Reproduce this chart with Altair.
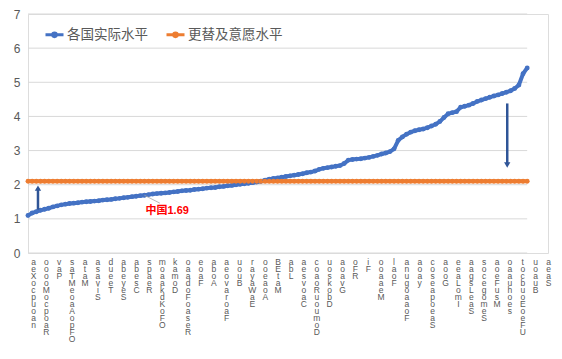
import json
import altair as alt
import pandas as pd

# ---------------- data ----------------
SERIES_ACTUAL = "各国实际水平"
SERIES_REPL = "更替及意愿水平"

actual = [
    1.10, 1.17, 1.21, 1.25, 1.28, 1.31, 1.35, 1.38, 1.41, 1.43,
    1.45, 1.46, 1.47, 1.49, 1.50, 1.51, 1.52, 1.53, 1.55, 1.56,
    1.57, 1.59, 1.60, 1.62, 1.63, 1.65, 1.66, 1.68, 1.69, 1.71,
    1.73, 1.74, 1.75, 1.76, 1.77, 1.79, 1.80, 1.82, 1.83, 1.84,
    1.86, 1.87, 1.88, 1.90, 1.91, 1.92, 1.94, 1.95, 1.97, 1.98,
    2.00, 2.01, 2.03, 2.04, 2.06, 2.08, 2.10, 2.13, 2.16, 2.18,
    2.20, 2.22, 2.24, 2.26, 2.28, 2.30, 2.32, 2.35, 2.37, 2.40,
    2.45, 2.48, 2.50, 2.52, 2.54, 2.56, 2.62, 2.72, 2.74, 2.75,
    2.76, 2.78, 2.80, 2.83, 2.86, 2.90, 2.93, 2.97, 3.05, 3.30,
    3.40, 3.48, 3.54, 3.58, 3.61, 3.63, 3.67, 3.72, 3.77, 3.85,
    3.97, 4.08, 4.11, 4.14, 4.27, 4.30, 4.33, 4.38, 4.44, 4.48,
    4.52, 4.56, 4.60, 4.63, 4.67, 4.71, 4.75, 4.82, 4.92, 5.25,
    5.42,
]
replacement_level = 2.1

x_labels = [
    "aeXocpuoan", "ooooMocpoaR", "vaP", "saT MeoaAopFO", "ataM", "asaviS",
    "dueeT", "abeyeS", "abesC", "spaeR", "moaakdKoFO", "kamoD",
    "oaadoF oaseR", "eoaF", "aboA", "aeovaroaF", "uouB", "rayaWaE",
    "ooeaoA", "BEtaM", "abL", "aesvoaC", "coaoR uou moD", "uoskobD",
    "aoavG", "oFR", "iF", "ooaaeM", "laoF", "anugoaaoF", "aoay",
    "cosea poeaS", "aooG", "eeaLomI", "aagsLeaS", "soce gomeS", "aoeFusM",
    "oaauhoes", "tocbuoEoeFU", "uoauB", "aeaS",
]
label_start = 1.2   # category position of the first label
label_step = 3.095  # categories between labels

y_ticks = [0, 1, 2, 3, 4, 5, 6, 7]

# arrows: position (category index), start value, tip value
arrow_x = [2.4, 115.2]
arrow_from = [1.27, 4.38]
arrow_to = [1.90, 2.58]
arrow_dir = ["up", "down"]

china_label = "中国1.69"
china_index = 28
china_value = 1.69
leader_end = [31.7, 1.46]

# ---------------- styles ----------------
BLUE = "#4472C4"
ORANGE = "#ED7D31"
ARROW = "#2F5597"
GRID = "#D9D9D9"
TEXT = "#595959"
FONT = "Liberation Sans, Noto Sans CJK SC, sans-serif"

n = len(actual)
rows = []
for i, v in enumerate(actual):
    rows.append({"i": i, "v": v, "s": SERIES_ACTUAL})
for i in range(n):
    rows.append({"i": i, "v": replacement_level, "s": SERIES_REPL})
df = pd.DataFrame(rows)

arrows = pd.DataFrame({"x": arrow_x, "y0": arrow_from, "y1": arrow_to, "d": arrow_dir})
china = pd.DataFrame({"x": [china_index], "y": [china_value], "t": [china_label],
                      "x2": [leader_end[0]], "y2": [leader_end[1]]})
grid_df = pd.DataFrame({"y": y_ticks, "x0": [0] * len(y_ticks), "x1": [n - 1] * len(y_ticks)})

tick_values = [round(label_start + k * label_step, 3) for k in range(len(x_labels))]
label_expr = ("split(" + json.dumps(x_labels).replace('"', "'")
              + "[round((datum.value-%s)/%s)], '')" % (label_start, label_step))

x_max = tick_values[-1]
x_scale = alt.Scale(domain=[0, x_max], nice=False, zero=False)
y_scale = alt.Scale(domain=[0, 7], nice=False)
plot_w = round(499 * x_max / (n - 1))

x_axis = alt.Axis(
    values=tick_values, labelExpr=label_expr, title=None,
    grid=False, ticks=False, domain=False,
    labelAngle=0, labelAlign="center", labelBaseline="top", labelFontSize=8.5,
    labelLineHeight=7, labelColor=TEXT, labelPadding=4, labelOverlap=False,
    labelFlush=False, labelBound=False, labelFont=FONT,
)
y_axis = alt.Axis(
    values=y_ticks, title=None, grid=False,
    domain=False, ticks=False, labelFontSize=12, labelColor=TEXT,
    labelPadding=8, labelFont=FONT, labelOverlap=False,
)

legend_symbol = "M-1,0L1,0M-0.2,0A0.2,0.2,0,1,1,0.2,0A0.2,0.2,0,1,1,-0.2,0"

grid = alt.Chart(grid_df).mark_rule(color=GRID, strokeWidth=1).encode(
    x=alt.X("x0:Q", scale=x_scale, axis=x_axis),
    x2="x1:Q",
    y=alt.Y("y:Q", scale=y_scale, axis=y_axis),
)

lines = alt.Chart(df).mark_line(
    strokeWidth=4,
    point=alt.OverlayMarkDef(size=24, filled=True, opacity=1),
).encode(
    x=alt.X("i:Q", scale=x_scale, axis=x_axis),
    y=alt.Y("v:Q", scale=y_scale, axis=y_axis),
    color=alt.Color(
        "s:N",
        scale=alt.Scale(domain=[SERIES_ACTUAL, SERIES_REPL], range=[BLUE, ORANGE]),
        legend=alt.Legend(
            title=None, orient="none", legendX=16, legendY=10, direction="horizontal",
            symbolType=legend_symbol, symbolSize=324, symbolStrokeWidth=3,
            labelFontSize=13.5, labelColor=TEXT, labelFont=FONT, labelOffset=2,
            columnPadding=12,
        ),
    ),
    order=alt.Order("i:Q"),
)

arrow_shaft = alt.Chart(arrows).mark_rule(color=ARROW, strokeWidth=2.5).encode(
    x=alt.X("x:Q", scale=x_scale, axis=x_axis),
    y=alt.Y("y0:Q", scale=y_scale, axis=y_axis),
    y2="y1:Q",
)
arrow_head = alt.Chart(arrows).mark_point(
    filled=True, color=ARROW, size=40, opacity=1
).encode(
    x=alt.X("x:Q", scale=x_scale, axis=x_axis),
    y=alt.Y("y1:Q", scale=y_scale, axis=y_axis),
    shape=alt.Shape("d:N", scale=alt.Scale(domain=["up", "down"],
                                           range=["triangle-up", "triangle-down"]),
                    legend=None),
)

leader = alt.Chart(china).mark_rule(color="#A6A6A6", strokeWidth=0.8).encode(
    x=alt.X("x:Q", scale=x_scale, axis=x_axis),
    y=alt.Y("y:Q", scale=y_scale, axis=y_axis),
    x2="x2:Q", y2="y2:Q",
)
china_text = alt.Chart(china).mark_text(
    color="#FF0000", fontSize=11, fontWeight="bold", align="left", baseline="middle",
    dx=1, dy=16, font=FONT,
).encode(
    x=alt.X("x:Q", scale=x_scale, axis=x_axis),
    y=alt.Y("y:Q", scale=y_scale, axis=y_axis),
    text="t:N",
)

chart = alt.layer(grid, lines, arrow_shaft, arrow_head, leader, china_text).properties(
    width=plot_w, height=239,
    autosize=alt.AutoSizeParams(type="none"),
    padding={"left": 20, "top": 6, "right": 4, "bottom": 96},
).configure_view(strokeWidth=0).configure_axis(labelOverlap=False).configure(font=FONT)

chart.save("out.html", embed_options={"renderer": "svg", "actions": False})
